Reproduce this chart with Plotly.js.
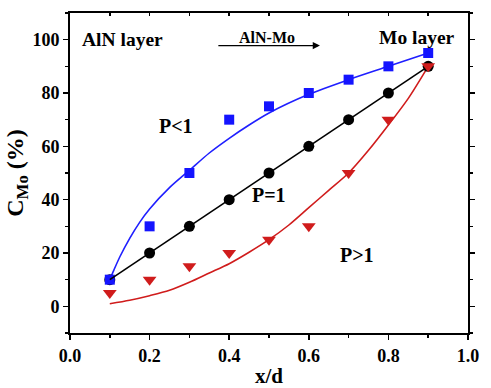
<!DOCTYPE html>
<html>
<head>
<meta charset="utf-8">
<script src="https://cdn.plot.ly/plotly-3.0.1.min.js"></script>
<style>html,body{margin:0;padding:0;background:#fff}#chart{width:491px;height:388px}</style>
</head>
<body>
<div id="chart"></div>
<script>
// Data
const xPts = [0.1, 0.2, 0.3, 0.4, 0.5, 0.6, 0.7, 0.8, 0.9];
const blueY = [10, 30, 50, 70, 75, 80, 85, 90, 95];
const blackY = [10, 20, 30, 40, 50, 60, 70, 80, 90];
const redY = [5, 10, 15, 20, 25, 30, 50, 70, 90];

const blueFitX = [0.1, 0.11, 0.125, 0.15, 0.175, 0.2, 0.25, 0.3, 0.35, 0.4, 0.45, 0.5, 0.6, 0.7, 0.8, 0.9];
const blueFitY = [10, 13.5, 18.5, 25.5, 31.5, 36.5, 44.5, 51, 57.5, 63, 68, 72.5, 79.5, 85, 90, 95];
const redFitX = [0.1, 0.15, 0.2, 0.25, 0.3, 0.35, 0.4, 0.45, 0.5, 0.55, 0.6, 0.65, 0.7, 0.75, 0.8, 0.85, 0.9];
const redFitY = [1, 2.3, 4, 6, 9, 12.5, 16, 20.3, 25, 30.5, 37, 43.5, 50, 58.5, 68, 78, 90];

const xTicks = [0.0, 0.2, 0.4, 0.6, 0.8, 1.0];
const xTickText = ['0.0', '0.2', '0.4', '0.6', '0.8', '1.0'];
const yTicks = [0, 20, 40, 60, 80, 100];

const FONT = 'Liberation Serif, Times New Roman, serif';

const traces = [
  {x: blueFitX, y: blueFitY, mode: 'lines', line: {color: '#1f1fff', width: 1.6, shape: 'spline', smoothing: 0.8}, hoverinfo: 'skip'},
  {x: redFitX, y: redFitY, mode: 'lines', line: {color: '#d01c1c', width: 1.6, shape: 'spline', smoothing: 0.8}, hoverinfo: 'skip'},
  {x: xPts, y: blackY, mode: 'markers', marker: {symbol: 'circle', size: 11, color: '#000'}},
  {x: xPts, y: blueY, mode: 'markers', marker: {symbol: 'square', size: 10, color: '#1414ff'}},
  {x: xPts, y: blackY, mode: 'lines', line: {color: '#000', width: 1.6}},
  {x: xPts, y: redY, mode: 'markers', marker: {symbol: 'triangle-down', size: 12, color: '#d01c1c'}},
  {x: [], y: [], xaxis: 'x2', yaxis: 'y', mode: 'markers'}
];

const axisFont = {family: FONT, size: 18, color: '#000', weight: 'bold'};

const layout = {
  width: 491, height: 388,
  margin: {l: 70, r: 23, t: 13, b: 55},
  paper_bgcolor: '#fff', plot_bgcolor: '#fff',
  showlegend: false,
  font: {family: FONT, color: '#000'},
  xaxis: {
    range: [0, 1], tickvals: xTicks, ticktext: xTickText,
    ticks: 'outside', ticklen: 5, tickwidth: 1.5, tickcolor: '#000',
    minor: {dtick: 0.1, tick0: 0, ticks: 'outside', ticklen: 3, tickwidth: 1.5, tickcolor: '#000', showgrid: false},
    showline: true, linecolor: '#000', linewidth: 2, mirror: true,
    showgrid: false, zeroline: false,
    tickfont: axisFont,
    title: {text: '<b>x/d</b>', font: {family: FONT, size: 21, color: '#000'}, standoff: 8}
  },
  xaxis2: {
    range: [0, 1], overlaying: 'x', side: 'top', anchor: 'y',
    dtick: 0.1, tick0: 0, ticks: 'inside', ticklen: 3, tickwidth: 1.5, tickcolor: '#000',
    showticklabels: false, showgrid: false, zeroline: false, showline: false
  },
  yaxis: {
    range: [-10, 110], tickvals: yTicks,
    ticks: 'outside', ticklen: 5, tickwidth: 1.5, tickcolor: '#000',
    minor: {dtick: 10, tick0: 0, ticks: 'outside', ticklen: 3, tickwidth: 1.5, tickcolor: '#000', showgrid: false},
    showline: true, linecolor: '#000', linewidth: 2, mirror: 'ticks',
    showgrid: false, zeroline: false,
    tickfont: axisFont,
    title: {text: '<b>C<sub>Mo</sub> (%)</b>', font: {family: FONT, size: 24, color: '#000'}, standoff: 2}
  },
  annotations: [
    {x: 0.133, y: 100, xref: 'x', yref: 'y', text: '<b>AlN layer</b>', showarrow: false, font: {family: FONT, size: 19.5, color: '#000'}},
    {x: 0.495, y: 101, xref: 'x', yref: 'y', text: '<b>AlN-Mo</b>', showarrow: false, font: {family: FONT, size: 16, color: '#000'}},
    {x: 0.871, y: 101, xref: 'x', yref: 'y', text: '<b>Mo layer</b>', showarrow: false, font: {family: FONT, size: 19.5, color: '#000'}},
    {x: 0.267, y: 67.5, xref: 'x', yref: 'y', text: '<b>P<1</b>', showarrow: false, font: {family: FONT, size: 20, color: '#000'}},
    {x: 0.5, y: 41.8, xref: 'x', yref: 'y', text: '<b>P=1</b>', showarrow: false, font: {family: FONT, size: 20, color: '#000'}},
    {x: 0.72, y: 19.4, xref: 'x', yref: 'y', text: '<b>P>1</b>', showarrow: false, font: {family: FONT, size: 20, color: '#000'}},
    {x: 0.628, y: 97.8, ax: 0.369, ay: 97.8, xref: 'x', yref: 'y', axref: 'x', ayref: 'y', text: '',
     showarrow: true, arrowhead: 2, arrowsize: 1.2, arrowwidth: 1.2, arrowcolor: '#000'}
  ]
};

Plotly.newPlot('chart', traces, layout, {displayModeBar: false, staticPlot: true});
</script>
</body>
</html>
